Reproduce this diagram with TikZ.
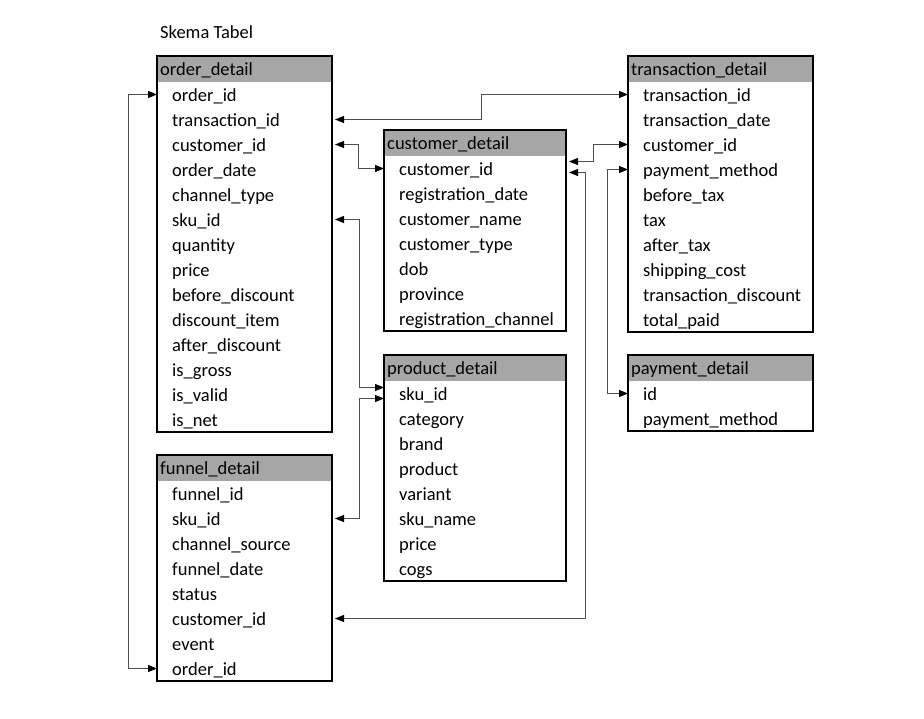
\documentclass[tikz,border=0pt]{standalone}
\usepackage{fontspec}
\setmainfont{Carlito}
\usetikzlibrary{arrows.meta,calc}
\definecolor{hdrgray}{HTML}{A6A6A6}
\definecolor{linkgray}{HTML}{505050}
\tikzset{
  tabfont/.style={font=\fontsize{18.5}{20}\selectfont},
  rowtxt/.style={tabfont, anchor=west, inner sep=0pt, text height=13pt, text depth=0pt},
  hdrtxt/.style={rowtxt},
  tabframe/.style={draw=black, line width=1.1pt, inner sep=0pt, outer sep=0pt, anchor=north west},
  link/.style={draw=linkgray, line width=0.9pt,
    {Triangle[length=9pt,width=7pt,black]}-{Triangle[length=9pt,width=7pt,black]}},
}
% #1 name, #2 left, #3 top, #4 width, #5 rows count, #6 title, #7 rows
\newcommand\dbtab[7]{%
  \fill[hdrgray] (#2,#3) rectangle ({#2+#4},{#3+26});
  \node[tabframe, minimum width=#4pt, minimum height={26pt+#5*25pt}] (#1) at (#2,#3) {};
  \node[hdrtxt] (#1-h) at ({#2+3},{#3+13}) {#6};
  \foreach \r [count=\i] in {#7} {\node[rowtxt] (#1-\i) at ({#2+15},{#3+26+(\i-0.5)*25}) {\r};}
}
\begin{document}
\begin{tikzpicture}[x=1pt,y=-1pt]
\fill[white] (0,0) rectangle (924,718);
\useasboundingbox (0,0) rectangle (924,718);
\node[tabfont, anchor=base west, inner sep=0pt] (title) at (160,38) {Skema Tabel};
\dbtab{od}{157}{56}{175}{14}{order\_detail}{order\_id,transaction\_id,customer\_id,order\_date,channel\_type,sku\_id,quantity,price,before\_discount,discount\_item,after\_discount,is\_gross,is\_valid,is\_net}
\dbtab{fd}{157}{455}{175}{8}{funnel\_detail}{funnel\_id,sku\_id,channel\_source,funnel\_date,status,customer\_id,event,order\_id}
\dbtab{cd}{384}{130}{182}{7}{customer\_detail}{customer\_id,registration\_date,customer\_name,customer\_type,dob,province,registration\_channel}
\dbtab{pd}{384}{355}{182}{8}{product\_detail}{sku\_id,category,brand,product,variant,sku\_name,price,cogs}
\dbtab{td}{628}{56}{185}{10}{transaction\_detail}{transaction\_id,transaction\_date,customer\_id,payment\_method,before\_tax,tax,after\_tax,shipping\_cost,transaction\_discount,total\_paid}
\dbtab{pmd}{628}{355}{185}{2}{payment\_detail}{id,payment\_method}
% connectors
\draw[link] (od.west |- od-1) -- ++(-29,0) |- (fd.west |- fd-8);
\draw[link, shorten <=3pt] (od.east |- od-2) -- ++(149,0) |- (td.west |- td-1);
\draw[link, shorten <=3pt] (od.east |- od-3) -- ++(26,0) |- (cd.west |- cd-1);
\draw[link, shorten <=3pt] (od.east |- od-6) -- ++(27,0) |- ($(pd.west |- pd-1)+(0,-6)$);
\draw[link, shorten <=3pt] (fd.east |- fd-2) -- ++(27,0) |- ($(pd.west |- pd-1)+(0,5)$);
\draw[link, shorten <=3pt] ($(cd.east |- cd-1)+(0,-7)$) -- ++(27,0) |- (td.west |- td-3);
\draw[link, shorten <=3pt, shorten >=3pt] ($(cd.east |- cd-1)+(0,4)$) -- ++(19,0) |- (fd.east |- fd-6);
\draw[link] (td.west |- td-4) -- ++(-21,0) |- (pmd.west |- pmd-1);
\end{tikzpicture}
\end{document}
